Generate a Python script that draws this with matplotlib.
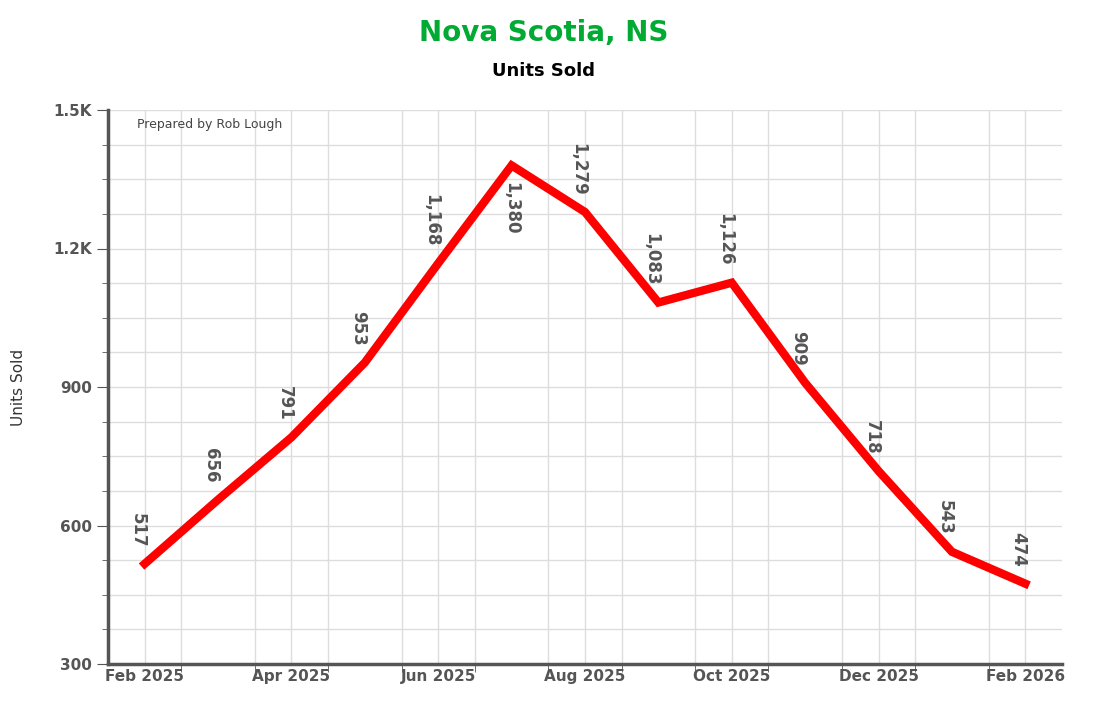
import matplotlib
matplotlib.use('Agg')
import matplotlib.pyplot as plt
import numpy as np

months = ['Feb 2025', 'Mar 2025', 'Apr 2025', 'May 2025', 'Jun 2025', 'Jul 2025', 'Aug 2025',
          'Sep 2025', 'Oct 2025', 'Nov 2025', 'Dec 2025', 'Jan 2026', 'Feb 2026']
units = [517, 656, 791, 953, 1168, 1380, 1279, 1083, 1126, 909, 718, 543, 474]
label_below = [False, False, False, False, False, True, False, False, False, False, False, False, False]

fig = plt.figure(figsize=(10.93, 7.12), dpi=100)
ax = fig.add_axes([108 / 1093, 1 - 664 / 712, 954 / 1093, 554 / 712])

x = np.arange(len(units))
ax.plot(x, units, color='#ff0000', lw=6, solid_joinstyle='miter', zorder=3)

for xi, v, below in zip(x, units, label_below):
    txt = f'{v:,}'
    if below:
        ax.annotate(txt, (xi, v), xytext=(0, -12), textcoords='offset points', rotation=270,
                    ha='center', va='top', fontsize=12, fontweight='bold', color='#555555')
    else:
        ax.annotate(txt, (xi, v), xytext=(-5, 12), textcoords='offset points', rotation=270,
                    ha='center', va='bottom', fontsize=12, fontweight='bold', color='#555555')

ax.set_xlim(-0.5, len(units) - 0.5)
ax.set_ylim(300, 1500)
ax.set_yticks([300, 600, 900, 1200, 1500])
ax.set_yticklabels(['300', '600', '900', '1.2K', '1.5K'])
ax.set_yticks(np.arange(300, 1501, 75), minor=True)
ax.set_xticks(x[::2])
ax.set_xticklabels(months[::2])
ax.set_xticks(x[:-1] + 0.5, minor=True)

ax.grid(True, which='both', color='#dddddd', lw=1, zorder=0)
ax.tick_params(axis='both', which='major', labelsize=11, labelcolor='#555555', length=0)
for lab in ax.get_xticklabels() + ax.get_yticklabels():
    lab.set_fontweight('bold')
ax.tick_params(axis='y', which='minor', length=4, color='#555555', direction='out')
ax.tick_params(axis='x', which='minor', length=6, color='#555555', direction='out')
ax.tick_params(axis='y', which='major', length=8, color='#555555')

for s in ['top', 'right']:
    ax.spines[s].set_visible(False)
for s in ['left', 'bottom']:
    ax.spines[s].set_color('#555555')
    ax.spines[s].set_linewidth(2.5)

ax.set_ylabel('Units Sold', fontsize=11, color='#333333', labelpad=20)
ax.text(0.03, 0.985, 'Prepared by Rob Lough', transform=ax.transAxes, fontsize=9,
        color='#444444', va='top')

fig.text(0.497, 1 - 33 / 712, 'Nova Scotia, NS', ha='center', va='center', fontsize=20,
         fontweight='bold', color='#00aa33')
fig.text(0.497, 1 - 71 / 712, 'Units Sold', ha='center', va='center', fontsize=13,
         fontweight='bold', color='black')

fig.savefig('out.png', dpi=100)
